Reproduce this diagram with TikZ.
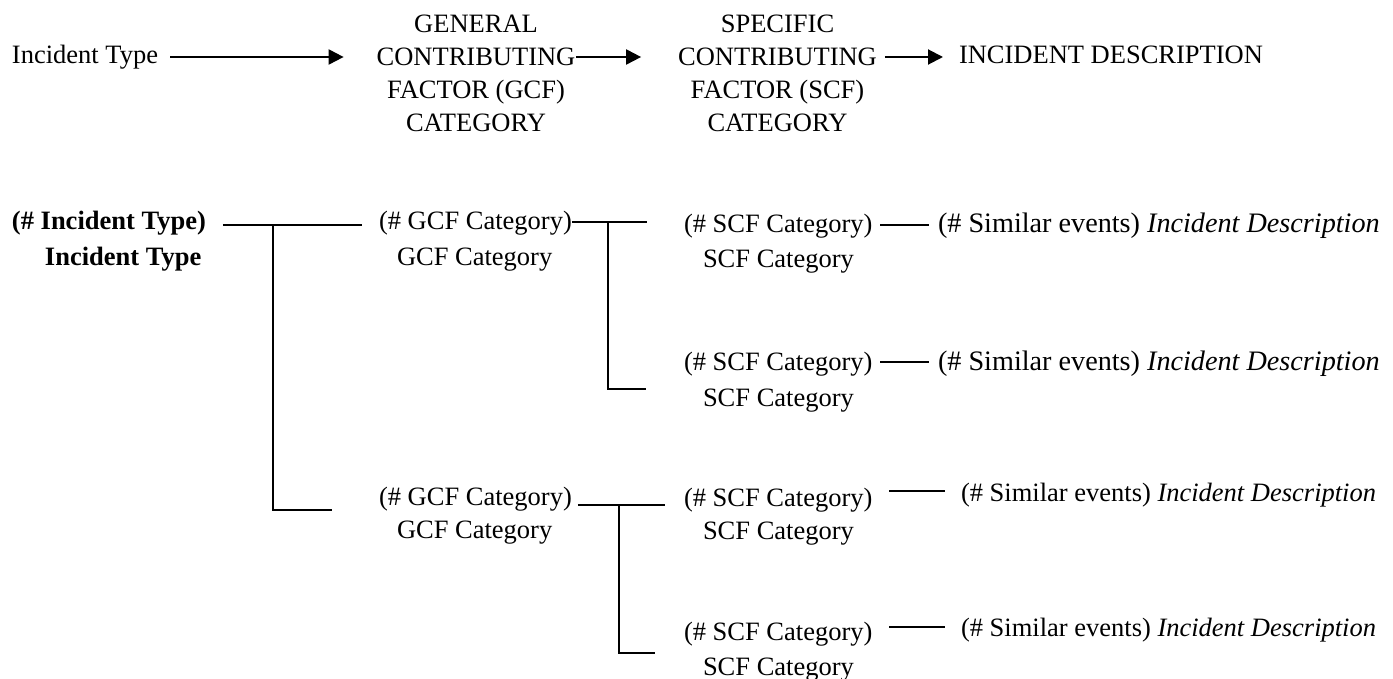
\documentclass[tikz,border=0pt]{standalone}
\usepackage{fontspec}
\setmainfont{Liberation Serif}
\usetikzlibrary{arrows.meta,calc}
\begin{document}
\begin{tikzpicture}[x=1pt,y=-1pt,
  txt/.style={inner sep=0pt, outer sep=0pt, font=\fontsize{26.5}{33}\selectfont, anchor=base west},
  widetxt/.style={txt, font=\fontsize{28.2}{33}\selectfont},
  boldtxt/.style={txt, font=\fontsize{26.5}{33}\selectfont\bfseries},
  hdr/.style={inner sep=0pt, outer sep=0pt, font=\fontsize{26.5}{33}\selectfont, align=center, anchor=north},
  link/.style={line width=2pt},
  flow/.style={line width=2pt, -{Triangle[length=15pt,width=15pt]}}]
\useasboundingbox (0,0) rectangle (1393,679);

% header row: the levels of the hierarchy
\node[txt] (it) at (12,64) {Incident Type};
\node[hdr] (gcfh) at (476,14.6) {GENERAL\\CONTRIBUTING\\FACTOR (GCF)\\CATEGORY};
\node[hdr] (scfh) at (777.5,14.6) {SPECIFIC\\CONTRIBUTING\\FACTOR (SCF)\\CATEGORY};
\node[txt] (desch) at (959,64) {INCIDENT DESCRIPTION};

\draw[flow] ($(it.base east)+(12,-7)$) -- ($(gcfh.west |- it.base)+(-33,-7)$);
\draw[flow] ($(gcfh.east |- it.base)+(1,-7)$) -- ($(scfh.west |- it.base)+(-37,-7)$);
\draw[flow] ($(scfh.east |- it.base)+(8,-7)$) -- ($(desch.base west)+(-16,-7)$);

% incident type level
\node[boldtxt] (nit) at (12,230) {(\# Incident Type)};
\node[boldtxt] (itb) at (45,266) {Incident Type};

% general contributing factor level
\node[txt] (g1n) at (379,230) {(\# GCF Category)};
\node[txt] (g1) at (397,266) {GCF Category};
\node[txt] (g2n) at (379,505) {(\# GCF Category)};
\node[txt] (g2) at (397,538) {GCF Category};

% specific contributing factor level
\node[txt] (s1n) at (684,233) {(\# SCF Category)};
\node[txt] (s1) at (703,268) {SCF Category};
\node[txt] (s2n) at (684,370) {(\# SCF Category)};
\node[txt] (s2) at (703,406) {SCF Category};
\node[txt] (s3n) at (684,506) {(\# SCF Category)};
\node[txt] (s3) at (703,539) {SCF Category};
\node[txt] (s4n) at (684,640) {(\# SCF Category)};
\node[txt] (s4) at (703,675) {SCF Category};

% incident descriptions
\node[widetxt] (e1) at (938,233) {(\# Similar events) \textit{Incident Description}};
\node[widetxt] (e2) at (938,370) {(\# Similar events) \textit{Incident Description}};
\node[txt] (e3) at (961,501) {(\# Similar events) \textit{Incident Description}};
\node[txt] (e4) at (961,636) {(\# Similar events) \textit{Incident Description}};

% tree connectors
\draw[link] ($(nit.base east)+(17,-5)$) -- ($(g1n.base west)+(-17,-5)$);
\coordinate (j1) at ($(nit.base east)+(67,-5)$);
\draw[link] (j1) |- ($(g2n.base west)+(-47,5)$);

\draw[link] ($(g1n.base east)+(0,-8)$) -- ($(s1n.base west)+(-37,-11)$);
\coordinate (j2) at ($(g1n.base east)+(36,-8)$);
\draw[link] (j2) |- ($(s2n.base west)+(-38,19)$);

\draw[link] ($(g2n.base east)+(6,0)$) -- ($(s3n.base west)+(-19,-1)$);
\coordinate (j3) at ($(g2n.base east)+(47,0)$);
\draw[link] (j3) |- ($(s4n.base west)+(-29,13)$);

\draw[link] ($(s1n.base east)+(8,-8)$) -- ($(e1.base west)+(-9,-8)$);
\draw[link] ($(s2n.base east)+(8,-8)$) -- ($(e2.base west)+(-9,-8)$);
\draw[link] ($(s3n.base east)+(17,-15)$) -- ($(e3.base west)+(-16,-10)$);
\draw[link] ($(s4n.base east)+(17,-13)$) -- ($(e4.base west)+(-16,-9)$);
\end{tikzpicture}
\end{document}
